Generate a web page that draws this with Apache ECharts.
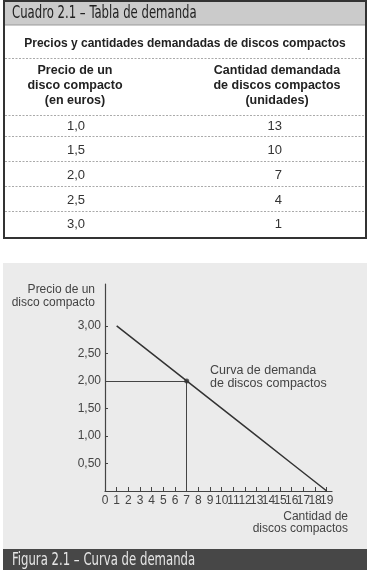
<!DOCTYPE html>
<html>
<head>
<meta charset="utf-8">
<script src="https://cdn.jsdelivr.net/npm/echarts@6/dist/echarts.min.js"></script>
<style>
  html, body { margin: 0; padding: 0; background: #fff; }
  #main { width: 370px; height: 570px; }
</style>
</head>
<body>
<div id="main"></div>
<script>
// datos de la tabla (Cuadro 2.1)
const prices = [1.0, 1.5, 2.0, 2.5, 3.0];
const quantities = [13, 10, 7, 4, 1];

// curva de demanda (Figura 2.1)
const curveQty = [1, 4, 7, 10, 13, 16, 19];
const curvePrice = [3.0, 2.5, 2.0, 1.5, 1.0, 0.5, 0];
const pointQty = 7;
const pointPrice = 2.0;

// ejes
const xTicks = [1, 2, 3, 4, 5, 6, 7, 8, 9, 10, 11, 12, 13, 14, 15, 16, 17, 18, 19];
const xLabels = [0, 1, 2, 3, 4, 5, 6, 7, 8, 9, 10, 11, 12, 13, 14, 15, 16, 17, 18, 19];
const yTicks = [0.5, 1.0, 1.5, 2.0, 2.5, 3.0];

const FONT = 'Liberation Sans';
const COND = 'DejaVu Sans Condensed';

function coma(v, d) {
    return v.toFixed(d).replace('.', ',');
}

function txt(x, y, text, size, color, opts, extra) {
    return Object.assign({
        type: 'text', z: 10, x: x, y: y,
        style: Object.assign({
            text: text, fontSize: size, fontFamily: FONT, fill: color,
            align: 'left', verticalAlign: 'middle'
        }, opts || {})
    }, extra || {});
}

const chart = echarts.init(document.getElementById('main'), null, { renderer: 'canvas' });

// tabla dibujada con elementos graphic
const graphics = [];

// fondo de la figura
graphics.push({ type: 'rect', z: -10, shape: { x: 3, y: 263, width: 364, height: 287 }, style: { fill: '#ebebeb' } });
// barra inferior
graphics.push({ type: 'rect', z: -9, shape: { x: 3, y: 549, width: 364, height: 21 }, style: { fill: '#474747' } });
graphics.push(txt(12, 560, 'Figura 2.1 – Curva de demanda', 13, '#e6e6e6', { fontFamily: COND }, { scaleY: 1.35 }));

// cabecera del cuadro
graphics.push({ type: 'rect', z: -9, shape: { x: 3, y: 0, width: 364, height: 25 }, style: { fill: '#cbcbcb' } });
graphics.push({ type: 'line', z: -8, shape: { x1: 3, y1: 25, x2: 367, y2: 25 }, style: { stroke: '#999', lineWidth: 1 } });
graphics.push(txt(12, 13, 'Cuadro 2.1 – Tabla de demanda', 13, '#222', { fontFamily: COND }, { scaleY: 1.35 }));
// borde
graphics.push({ type: 'rect', z: 5, shape: { x: 4, y: 1, width: 362, height: 237 }, style: { fill: 'none', stroke: '#333', lineWidth: 2 } });

graphics.push(txt(185, 44, 'Precios y cantidades demandadas de discos compactos', 12, '#222', { fontWeight: 'bold', align: 'center' }));

const dashY = [58, 115, 136, 161, 186, 211];
dashY.forEach(y => {
    graphics.push({ type: 'line', z: 4, shape: { x1: 5, y1: y + 0.5, x2: 365, y2: y + 0.5 }, style: { stroke: '#aaa', lineWidth: 1, lineDash: [2, 1.5] } });
});

graphics.push(txt(75, 86, 'Precio de un\ndisco compacto\n(en euros)', 12.5, '#222', { fontWeight: 'bold', align: 'center', lineHeight: 15 }));
graphics.push(txt(277, 86, 'Cantidad demandada\nde discos compactos\n(unidades)', 12.5, '#222', { fontWeight: 'bold', align: 'center', lineHeight: 15 }));

prices.forEach((p, i) => {
    const y = 126 + i * 24.7;
    graphics.push(txt(76, y, coma(p, 1), 13, '#333', { align: 'center' }));
    graphics.push(txt(282, y, String(quantities[i]), 13, '#333', { align: 'right' }));
});

// textos de la figura
graphics.push(txt(95, 296, 'Precio de un\ndisco compacto', 12, '#444', { align: 'right', lineHeight: 13 }));
graphics.push(txt(348, 523, 'Cantidad de\ndiscos compactos', 12, '#444', { align: 'right', lineHeight: 12 }));
graphics.push(txt(210, 377, 'Curva de demanda\nde discos compactos', 12.5, '#444', { lineHeight: 12.5 }));

const curve = curveQty.map((q, i) => [q, curvePrice[i]]);

// etiquetas del eje x repartidas en dos ejes (pares / impares) para que no se oculten
const xLabelsEven = xLabels.filter(v => v % 2 === 0);
const xLabelsOdd = xLabels.filter(v => v % 2 === 1);

const xLabelStyle = {
    color: '#444', fontSize: 12, fontFamily: FONT, margin: 4,
    hideOverlap: false, showMinLabel: true, showMaxLabel: true, formatter: v => String(v)
};

const option = {
    animation: false,
    backgroundColor: '#fff',
    grid: { left: 105, right: 38, top: 284, bottom: 79, containLabel: false },
    xAxis: [
        {
            type: 'value',
            min: 0,
            max: 19.45,
            position: 'bottom',
            axisLine: { show: true, lineStyle: { color: '#444', width: 1.2 } },
            axisTick: { show: true, inside: true, length: 4, customValues: xTicks, lineStyle: { color: '#444' } },
            axisLabel: Object.assign({ customValues: xLabelsEven }, xLabelStyle),
            splitLine: { show: false }
        },
        {
            type: 'value',
            min: 0,
            max: 19.45,
            position: 'bottom',
            offset: 0,
            axisLine: { show: false },
            axisTick: { show: false },
            axisLabel: Object.assign({ customValues: xLabelsOdd }, xLabelStyle),
            splitLine: { show: false }
        }
    ],
    yAxis: {
        type: 'value',
        min: 0,
        max: 3.76,
        axisLine: { show: true, lineStyle: { color: '#444', width: 1.2 } },
        axisTick: { show: true, inside: true, length: 3, customValues: yTicks, lineStyle: { color: '#444' } },
        axisLabel: { customValues: yTicks, color: '#444', fontSize: 12, fontFamily: FONT, margin: 4, formatter: v => coma(v, 2) },
        splitLine: { show: false }
    },
    series: [
        {
            type: 'line',
            data: curve,
            symbol: 'none',
            lineStyle: { color: '#333', width: 1.5 },
            markLine: {
                silent: true,
                symbol: 'none',
                label: { show: false },
                lineStyle: { color: '#444', width: 1, type: 'solid' },
                data: [
                    [{ coord: [0, pointPrice] }, { coord: [pointQty, pointPrice] }],
                    [{ coord: [pointQty, pointPrice] }, { coord: [pointQty, 0] }]
                ]
            }
        },
        {
            type: 'scatter',
            data: [[pointQty, pointPrice]],
            symbol: 'circle',
            symbolSize: 5,
            itemStyle: { color: '#333' },
            z: 5
        }
    ],
    graphic: graphics
};

chart.setOption(option);
</script>
</body>
</html>
